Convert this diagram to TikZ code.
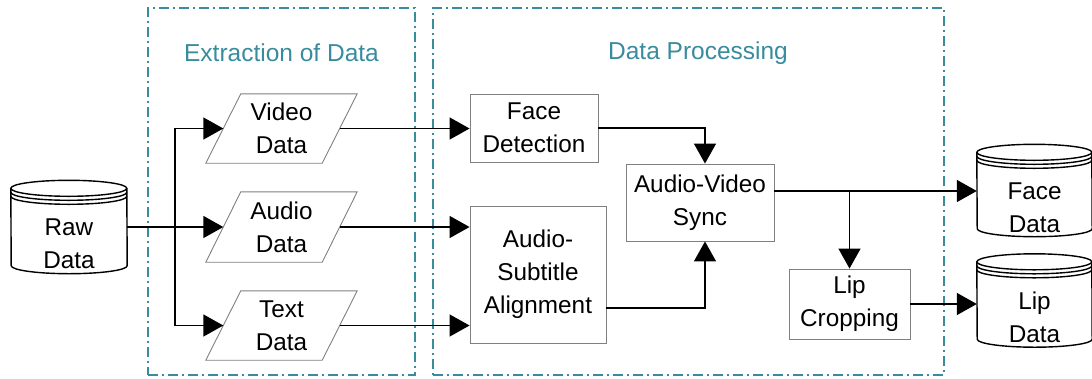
\documentclass[tikz,border=0pt]{standalone}
\usepackage{fontspec}
\setmainfont{Liberation Sans}
\usetikzlibrary{arrows.meta,calc}
\definecolor{frameteal}{RGB}{56,140,158}
\definecolor{boxgray}{RGB}{128,128,128}
\newcommand\cylshape[2]{%
  \draw[cylst] ($(#1.north west)+(0,8)$) arc[start angle=180,end angle=0,x radius=#2,y radius=8pt]
     -- ($(#1.south east)+(0,-8)$) arc[start angle=0,end angle=-180,x radius=#2,y radius=8pt] -- cycle;
  \draw[cylst] ($(#1.north west)+(0,8)$) arc[start angle=180,end angle=360,x radius=#2,y radius=8pt];
  \draw[cylst] ($(#1.north west)+(0,12)$) arc[start angle=180,end angle=360,x radius=#2,y radius=8pt];
  \draw[cylst] ($(#1.north west)+(0,16)$) arc[start angle=180,end angle=360,x radius=#2,y radius=8pt];
}
\newcommand\parashape[1]{%
  \draw[parast] ($(#1.north west)+(35,0)$) -- (#1.north east) -- ($(#1.south east)+(-35,0)$) -- (#1.south west) -- cycle;
}
\begin{document}
\begin{tikzpicture}[x=1pt,y=-1pt,
  txt/.style={font=\fontsize{24.3}{33}\selectfont, align=center, inner sep=0pt, text=black},
  box/.style={txt, draw=boxgray, line width=0.9pt, rectangle},
  holder/.style={txt, rectangle, draw=none},
  cylst/.style={draw=black, line width=1.4pt},
  parast/.style={draw=boxgray, line width=0.9pt},
  frame/.style={draw=frameteal, line width=1.3pt, dash pattern=on 10pt off 4pt on 2pt off 4pt, rectangle, inner sep=0pt},
  title/.style={font=\fontsize{24.5}{30}\selectfont, text=frameteal, inner sep=0pt},
  conn/.style={draw=black, line width=1.5pt},
  arr/.style={conn, -{Triangle[length=20pt,width=22pt]}}
]
\useasboundingbox (0,0) rectangle (1092,378);

% frames
\node[frame, minimum width=267pt, minimum height=367pt] (fr1) at (281.5,191.5) {};
\node[frame, minimum width=511pt, minimum height=367pt] (fr2) at (688.5,191.5) {};
\node[title] (t1) at (281.5,53) {Extraction of Data};
\node[title] (t2) at (698,53) {Data Processing};

% cylinders
\node[holder, minimum width=116pt, minimum height=93pt] (raw) at (69,227) {};
\cylshape{raw}{58pt}
\node[txt] (rawlbl) at ($(raw.center)+(0,17)$) {Raw\\Data};

\node[holder, minimum width=115pt, minimum height=92pt] (fdata) at (1034.5,190.5) {};
\cylshape{fdata}{57.5pt}
\node[txt] (fdatalbl) at ($(fdata.center)+(0,17)$) {Face\\Data};

\node[holder, minimum width=115pt, minimum height=93pt] (ldata) at (1034.5,300.5) {};
\cylshape{ldata}{57.5pt}
\node[txt] (ldatalbl) at ($(ldata.center)+(0,17)$) {Lip\\Data};

% parallelograms
\node[holder, minimum width=151pt, minimum height=69pt] (video) at (281.5,128.5) {Video\\Data};
\parashape{video}
\node[holder, minimum width=151pt, minimum height=70pt] (audio) at (281.5,227) {Audio\\Data};
\parashape{audio}
\node[holder, minimum width=151pt, minimum height=69pt] (text) at (281.5,325.5) {Text\\Data};
\parashape{text}

% process boxes
\node[box, minimum width=128pt, minimum height=68pt] (facedet) at (534,128) {Face\\Detection};
\node[box, minimum width=136pt, minimum height=137pt] (align) at (538,274.5) {Audio-\\Subtitle\\Alignment};
\node[box, minimum width=148pt, minimum height=77pt] (sync) at (700,202.5) {Audio-Video\\Sync};
\node[box, minimum width=121pt, minimum height=70pt] (lipcrop) at (849.5,304) {Lip\\Cropping};

% connectors
\coordinate (jn) at (175,227);
\draw[conn] (raw.east) -- (jn);
\draw[arr] (jn) -- ($(audio.west)+(17.5,0)$);
\draw[arr] (jn) |- ($(video.west)+(17.5,0)$);
\draw[arr] (jn) |- ($(text.west)+(17.5,0)$);

\draw[arr] ($(video.east)+(-17.5,0)$) -- (video.east -| facedet.west);
\draw[arr] ($(audio.east)+(-17.5,0)$) -- (audio.east -| align.west);
\draw[arr] ($(text.east)+(-17.5,0)$) -- (text.east -| align.west);

\draw[arr] (facedet.east) -| ($(sync.north)+(5,0)$);
\draw[arr] ($(align.east)+(0,33.5)$) -| ($(sync.south)+(5,0)$);

\coordinate (so) at ($(sync.east)+(0,-11.5)$);
\draw[arr] (so) -- (so -| fdata.west);
\draw[arr] (so -| lipcrop.north) -- (lipcrop.north);
\draw[arr] (lipcrop.east) -- (lipcrop.east -| ldata.west);
\end{tikzpicture}
\end{document}
